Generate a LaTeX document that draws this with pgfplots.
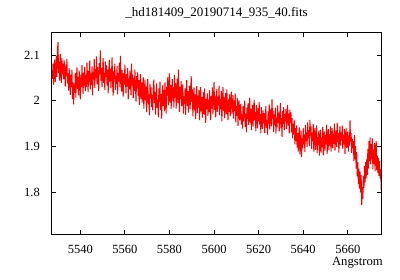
\documentclass[border=0pt]{standalone}
\usepackage{fontspec}
\setmainfont{Liberation Serif}
\usepackage{pgfplots}
\usepackage{pgfplotstable}
\pgfplotsset{compat=1.18}
\pgfplotstableread{
x y
5527.50 2.048
5527.75 2.081
5528.00 2.035
5528.25 2.072
5528.50 2.090
5528.75 2.041
5529.00 2.063
5529.25 2.098
5529.50 2.052
5529.75 2.110
5530.00 2.128
5530.25 2.061
5530.50 2.085
5530.75 2.044
5531.00 2.102
5531.25 2.070
5531.50 2.039
5531.75 2.093
5532.00 2.058
5532.25 2.081
5532.50 2.047
5532.75 2.088
5533.00 2.066
5533.25 2.031
5533.50 2.079
5533.75 2.054
5534.00 2.091
5534.25 2.038
5534.50 2.060
5534.75 2.022
5535.00 2.071
5535.25 2.045
5535.50 2.013
5535.75 2.057
5536.00 2.030
5536.25 2.068
5536.50 2.004
5536.75 2.040
5537.00 1.992
5537.25 2.035
5537.50 2.018
5537.75 2.061
5538.00 2.007
5538.25 2.044
5538.50 2.073
5538.75 2.026
5539.00 2.052
5539.25 2.012
5539.50 2.066
5539.75 2.038
5540.00 2.003
5540.25 2.057
5540.50 2.029
5540.75 2.078
5541.00 2.041
5541.25 2.015
5541.50 2.062
5541.75 2.033
5542.00 2.074
5542.25 2.021
5542.50 2.056
5542.75 2.030
5543.00 2.083
5543.25 2.047
5543.50 2.019
5543.75 2.066
5544.00 2.040
5544.25 2.088
5544.50 2.025
5544.75 2.059
5545.00 2.034
5545.25 2.075
5545.50 2.012
5545.75 2.063
5546.00 2.046
5546.25 2.091
5546.50 2.028
5546.75 2.069
5547.00 2.050
5547.25 2.097
5547.50 2.036
5547.75 2.074
5548.00 2.049
5548.25 2.021
5548.50 2.082
5548.75 2.058
5549.00 2.110
5549.25 2.044
5549.50 2.071
5549.75 2.030
5550.00 2.065
5550.25 2.093
5550.50 2.039
5550.75 2.061
5551.00 2.024
5551.25 2.086
5551.50 2.053
5551.75 2.077
5552.00 2.033
5552.25 2.068
5552.50 2.016
5552.75 2.062
5553.00 2.089
5553.25 2.041
5553.50 2.070
5553.75 2.027
5554.00 2.058
5554.25 2.095
5554.50 2.036
5554.75 2.011
5555.00 2.064
5555.25 2.048
5555.50 2.081
5555.75 2.023
5556.00 2.055
5556.25 2.037
5556.50 2.076
5556.75 2.014
5557.00 2.061
5557.25 2.042
5557.50 2.083
5557.75 2.029
5558.00 2.098
5558.25 2.052
5558.50 2.020
5558.75 2.067
5559.00 2.040
5559.25 2.009
5559.50 2.061
5559.75 2.035
5560.00 2.079
5560.25 2.046
5560.50 2.016
5560.75 2.058
5561.00 2.031
5561.25 2.072
5561.50 2.003
5561.75 2.049
5562.00 2.025
5562.25 2.066
5562.50 2.038
5562.75 2.012
5563.00 2.081
5563.25 2.033
5563.50 2.057
5563.75 2.006
5564.00 2.049
5564.25 2.021
5564.50 2.068
5564.75 2.030
5565.00 1.998
5565.25 2.054
5565.50 2.027
5565.75 2.062
5566.00 2.010
5566.25 2.045
5566.50 1.991
5566.75 2.036
5567.00 2.058
5567.25 2.004
5567.50 2.040
5567.75 1.996
5568.00 2.027
5568.25 2.051
5568.50 1.983
5568.75 2.019
5569.00 2.046
5569.25 2.001
5569.50 2.031
5569.75 1.975
5570.00 2.023
5570.25 2.048
5570.50 1.992
5570.75 2.014
5571.00 1.968
5571.25 2.037
5571.50 2.005
5571.75 2.029
5572.00 1.986
5572.25 2.012
5572.50 1.979
5572.75 2.033
5573.00 2.046
5573.25 1.995
5573.50 2.020
5573.75 1.970
5574.00 2.011
5574.25 2.038
5574.50 1.984
5574.75 2.002
5575.00 1.964
5575.25 2.027
5575.50 1.997
5575.75 2.042
5576.00 1.980
5576.25 2.015
5576.50 1.961
5576.75 2.006
5577.00 2.034
5577.25 1.989
5577.50 2.024
5577.75 1.977
5578.00 2.040
5578.25 2.003
5578.50 1.972
5578.75 2.031
5579.00 2.011
5579.25 2.052
5579.50 1.990
5579.75 2.021
5580.00 2.060
5580.25 1.996
5580.50 2.035
5580.75 1.982
5581.00 2.018
5581.25 2.047
5581.50 2.000
5581.75 2.029
5582.00 1.985
5582.25 2.056
5582.50 2.007
5582.75 2.039
5583.00 1.983
5583.25 2.022
5583.50 2.048
5583.75 1.995
5584.00 2.068
5584.25 2.015
5584.50 1.976
5584.75 2.030
5585.00 2.004
5585.25 2.043
5585.50 1.988
5585.75 2.019
5586.00 2.036
5586.25 1.972
5586.50 2.010
5586.75 1.993
5587.00 2.027
5587.25 1.969
5587.50 2.016
5587.75 2.045
5588.00 1.989
5588.25 2.021
5588.50 1.974
5588.75 2.008
5589.00 2.033
5589.25 1.982
5589.50 2.012
5589.75 2.054
5590.00 1.997
5590.25 2.025
5590.50 1.966
5590.75 2.003
5591.00 2.029
5591.25 1.979
5591.50 2.014
5591.75 1.960
5592.00 2.006
5592.25 2.032
5592.50 1.973
5592.75 2.011
5593.00 1.985
5593.25 2.024
5593.50 1.958
5593.75 1.999
5594.00 2.030
5594.25 1.977
5594.50 2.008
5594.75 1.963
5595.00 1.994
5595.25 2.019
5595.50 1.970
5595.75 2.027
5596.00 1.988
5596.25 1.952
5596.50 2.004
5596.75 1.981
5597.00 2.016
5597.25 1.967
5597.50 2.002
5597.75 1.975
5598.00 2.023
5598.25 1.989
5598.50 1.958
5598.75 2.010
5599.00 1.983
5599.25 2.029
5599.50 1.971
5599.75 2.005
5600.00 2.041
5600.25 1.980
5600.50 2.012
5600.75 1.964
5601.00 1.998
5601.25 2.026
5601.50 1.976
5601.75 2.008
5602.00 1.990
5602.25 2.033
5602.50 1.969
5602.75 2.004
5603.00 1.982
5603.25 2.021
5603.50 1.955
5603.75 1.996
5604.00 2.030
5604.25 1.978
5604.50 2.009
5604.75 1.962
5605.00 1.994
5605.25 2.017
5605.50 1.971
5605.75 2.025
5606.00 1.987
5606.25 1.958
5606.50 2.003
5606.75 1.976
5607.00 2.014
5607.25 1.966
5607.50 1.998
5607.75 2.020
5608.00 1.972
5608.25 1.990
5608.50 2.012
5608.75 1.961
5609.00 2.000
5609.25 1.978
5609.50 2.016
5609.75 1.953
5610.00 1.988
5610.25 1.967
5610.50 2.006
5610.75 1.945
5611.00 1.982
5611.25 2.001
5611.50 1.957
5611.75 1.975
5612.00 1.993
5612.25 1.948
5612.50 1.970
5612.75 1.939
5613.00 1.988
5613.25 1.955
5613.50 1.978
5613.75 2.000
5614.00 1.943
5614.25 1.972
5614.50 1.931
5614.75 1.985
5615.00 1.960
5615.25 1.994
5615.50 1.947
5615.75 1.976
5616.00 2.007
5616.25 1.952
5616.50 1.983
5616.75 1.936
5617.00 1.969
5617.25 1.991
5617.50 1.944
5617.75 1.980
5618.00 2.002
5618.25 1.957
5618.50 1.975
5618.75 1.933
5619.00 1.991
5619.25 1.962
5619.50 1.940
5619.75 1.984
5620.00 1.955
5620.25 1.997
5620.50 1.948
5620.75 1.971
5621.00 1.929
5621.25 1.986
5621.50 1.960
5621.75 1.938
5622.00 1.979
5622.25 1.951
5622.50 1.973
5622.75 1.930
5623.00 1.965
5623.25 1.988
5623.50 1.941
5623.75 1.958
5624.00 1.926
5624.25 1.977
5624.50 1.950
5624.75 1.992
5625.00 1.937
5625.25 1.969
5625.50 1.983
5625.75 1.944
5626.00 2.003
5626.25 1.961
5626.50 1.978
5626.75 1.932
5627.00 1.970
5627.25 1.947
5627.50 1.985
5627.75 1.928
5628.00 1.963
5628.25 1.942
5628.50 1.990
5628.75 1.951
5629.00 1.974
5629.25 1.933
5629.50 1.968
5629.75 1.995
5630.00 1.940
5630.25 1.962
5630.50 1.921
5630.75 1.978
5631.00 1.949
5631.25 1.986
5631.50 1.936
5631.75 1.971
5632.00 1.955
5632.25 1.982
5632.50 1.938
5632.75 1.966
5633.00 1.991
5633.25 1.946
5633.50 1.972
5633.75 1.929
5634.00 1.980
5634.25 1.953
5634.50 1.975
5634.75 1.931
5635.00 1.962
5635.25 1.918
5635.50 1.950
5635.75 1.927
5636.00 1.957
5636.25 1.905
5636.50 1.940
5636.75 1.912
5637.00 1.946
5637.25 1.898
5637.50 1.930
5637.75 1.889
5638.00 1.921
5638.25 1.942
5638.50 1.883
5638.75 1.910
5639.00 1.935
5639.25 1.877
5639.50 1.918
5639.75 1.896
5640.00 1.940
5640.25 1.905
5640.50 1.926
5640.75 1.888
5641.00 1.947
5641.25 1.912
5641.50 1.931
5641.75 1.899
5642.00 1.953
5642.25 1.918
5642.50 1.936
5642.75 1.901
5643.00 1.958
5643.25 1.922
5643.50 1.944
5643.75 1.895
5644.00 1.930
5644.25 1.912
5644.50 1.949
5644.75 1.889
5645.00 1.926
5645.25 1.940
5645.50 1.893
5645.75 1.917
5646.00 1.946
5646.25 1.886
5646.50 1.921
5646.75 1.903
5647.00 1.935
5647.25 1.880
5647.50 1.914
5647.75 1.937
5648.00 1.887
5648.25 1.920
5648.50 1.898
5648.75 1.943
5649.00 1.881
5649.25 1.916
5649.50 1.933
5649.75 1.890
5650.00 1.925
5650.25 1.905
5650.50 1.948
5650.75 1.884
5651.00 1.919
5651.25 1.938
5651.50 1.893
5651.75 1.927
5652.00 1.902
5652.25 1.944
5652.50 1.889
5652.75 1.921
5653.00 1.940
5653.25 1.896
5653.50 1.928
5653.75 1.906
5654.00 1.950
5654.25 1.891
5654.50 1.917
5654.75 1.935
5655.00 1.899
5655.25 1.952
5655.50 1.910
5655.75 1.929
5656.00 1.887
5656.25 1.924
5656.50 1.944
5656.75 1.902
5657.00 1.931
5657.25 1.913
5657.50 1.946
5657.75 1.895
5658.00 1.926
5658.25 1.904
5658.50 1.938
5658.75 1.884
5659.00 1.920
5659.25 1.941
5659.50 1.897
5659.75 1.915
5660.00 1.933
5660.25 1.889
5660.50 1.924
5660.75 1.902
5661.00 1.957
5661.25 1.911
5661.50 1.930
5661.75 1.886
5662.00 1.917
5662.25 1.896
5662.50 1.912
5662.75 1.868
5663.00 1.925
5663.25 1.872
5663.50 1.901
5663.75 1.852
5664.00 1.888
5664.25 1.835
5664.50 1.866
5664.75 1.818
5665.00 1.852
5665.25 1.808
5665.50 1.845
5665.75 1.800
5666.00 1.838
5666.25 1.772
5666.50 1.812
5666.75 1.785
5667.00 1.836
5667.25 1.810
5667.50 1.858
5667.75 1.822
5668.00 1.866
5668.25 1.830
5668.50 1.872
5668.75 1.838
5669.00 1.895
5669.25 1.852
5669.50 1.912
5669.75 1.868
5670.00 1.920
5670.25 1.861
5670.50 1.905
5670.75 1.872
5671.00 1.918
5671.25 1.850
5671.50 1.893
5671.75 1.862
5672.00 1.908
5672.25 1.846
5672.50 1.889
5672.75 1.912
5673.00 1.848
5673.25 1.880
5673.50 1.842
5673.75 1.875
5674.00 1.836
5674.25 1.868
5674.50 1.830
5674.75 1.850
5675.00 1.805
}\spectrum
\begin{document}
\begin{tikzpicture}
\useasboundingbox (-52bp,-46bp) rectangle (348bp,234bp);
\begin{axis}[
  at={(0,0)}, anchor=south west,
  scale only axis, width=329bp, height=201bp,
  xmin=5527.3, xmax=5674.9, ymin=1.709, ymax=2.148,
  xtick={5540,5560,5580,5600,5620,5640,5660},
  ytick={1.8,1.9,2.0,2.1},
  /pgf/number format/assume math mode=true,
  /pgf/number format/1000 sep={},
  tick align=inside, major tick length=4bp,
  axis line style={line width=1bp},
  every tick/.style={black, line width=0.8bp},
  ticklabel style={font=\fontsize{12.5bp}{14bp}\selectfont, inner sep=0pt},
  xticklabel style={anchor=north, yshift=-11bp},
  yticklabel style={anchor=east, xshift=-12bp},
  title={\_hd181409\_20190714\_935\_40.fits},
  title style={at={(0.5,1)}, anchor=base, yshift=11bp, inner sep=0pt, font=\fontsize{13bp}{15bp}\selectfont},
  xlabel={Angstrom},
  xlabel style={at={(1,0)}, anchor=base east, yshift=-31bp, xshift=2bp, inner sep=0pt, font=\fontsize{12.7bp}{14bp}\selectfont},
]
\addplot[red, line width=1bp, mark=none] table[x=x, y=y] {\spectrum};
\end{axis}
\end{tikzpicture}
\end{document}
